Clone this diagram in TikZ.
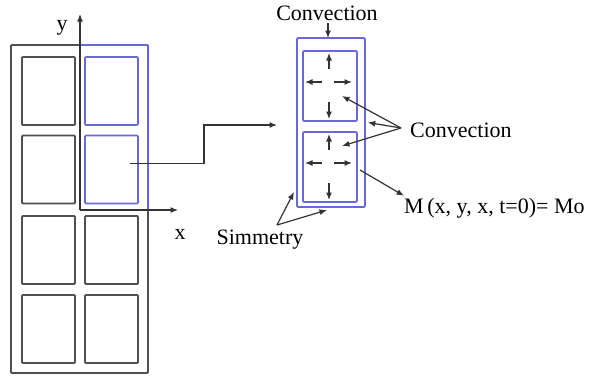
\documentclass[tikz,border=0pt]{standalone}
\usepackage{fontspec}
\setmainfont{Liberation Serif}
\usetikzlibrary{calc,arrows.meta}
\definecolor{cellblue}{RGB}{104,104,218}
\definecolor{linegray}{RGB}{80,80,80}
\begin{document}
\begin{tikzpicture}[x=1pt, y=-1pt, >={Latex[length=7.5pt,width=6pt]}]
  \tikzstyle{cell}=[rectangle, draw=linegray, line width=1.8pt, rounded corners=1pt,
                    minimum width=53pt, minimum height=68pt, inner sep=0pt]
  \tikzstyle{bcell}=[cell, draw=cellblue, line width=1.6pt]
  \tikzstyle{lbl}=[font=\rmfamily\fontsize{22}{24}\selectfont, inner sep=0pt]
  \tikzstyle{pointer}=[->, black!80, line width=1.2pt]
  \useasboundingbox (0,0) rectangle (591,375);

  % whole section
  \node[cell, minimum width=137pt, minimum height=328pt] (plate) at (79.5,209) {};
  \node[cell] (a1) at (48.5,91) {};
  \node[cell] (a2) at (48.5,169.5) {};
  \node[cell] (a3) at (48.5,250) {};
  \node[cell] (a4) at (48.5,329) {};
  \node[bcell] (b1) at (111.5,91) {};
  \node[bcell] (b2) at (111.5,169.5) {};
  \node[cell] (b3) at (111.5,250) {};
  \node[cell] (b4) at (111.5,329) {};
  \node[bcell, minimum width=68pt, minimum height=165pt] (half) at (114,127.5) {};

  % axes
  \coordinate (o) at (80,210);
  \draw[pointer] (o) -- ++(0,-196);
  \draw[pointer] (o) -- ++(98,0);
  \node[lbl] (ylab) at (62,28) {y};
  \node[lbl] (xlab) at (180,234) {x};

  % zoomed column
  \node[bcell, minimum width=68pt, minimum height=169pt] (rbox) at (331,122.5) {};
  \node[bcell, minimum width=54pt, minimum height=70pt] (r1) at (330,86) {};
  \node[bcell, minimum width=54pt, minimum height=70pt] (r2) at (330,167) {};
  \coordinate (zoomEnd) at (277,125);
  \draw[pointer] ($(b2)+(18,-6)$) -- (204,163.5) |- (zoomEnd);

  \foreach \c in {r1,r2} {
    \draw[pointer] ($(\c)+(-1,-17)$) -- ($(\c)+(-1,-33)$);
    \draw[pointer] ($(\c)+(-1,16)$) -- ($(\c)+(-1,33)$);
    \draw[pointer] ($(\c)+(-8,-4)$) -- ($(\c)+(-25,-4)$);
    \draw[pointer] ($(\c)+(4,-4)$) -- ($(\c)+(22,-4)$);
  }

  % labels
  \node[lbl] (convT) at (327,13) {Convection};
  \draw[pointer] (328,23) -- (328,38);

  \node[lbl, anchor=west] (convR) at (410,130) {Convection};
  \coordinate (fan) at (401,128);
  \draw[pointer] (fan) -- ($(r1)+(12,10)$);
  \draw[pointer] (fan) -- ($(rbox.east)+(2,0)$);
  \draw[pointer] (fan) -- ($(r2)+(12,-21)$);

  \node[lbl, anchor=west] (mlab) at (404,208) {M\,(x, y, x, t=0)= Mo};
  \draw[pointer] ($(r2)+(30,3)$) -- ($(mlab.north west)+(0,-2)$);

  \node[lbl] (sym) at (260,240) {Simmetry};
  \coordinate (symTop) at (277,225);
  \draw[pointer] (symTop) -- (294,192);
  \draw[pointer] (symTop) -- (327,210);
\end{tikzpicture}
\end{document}
